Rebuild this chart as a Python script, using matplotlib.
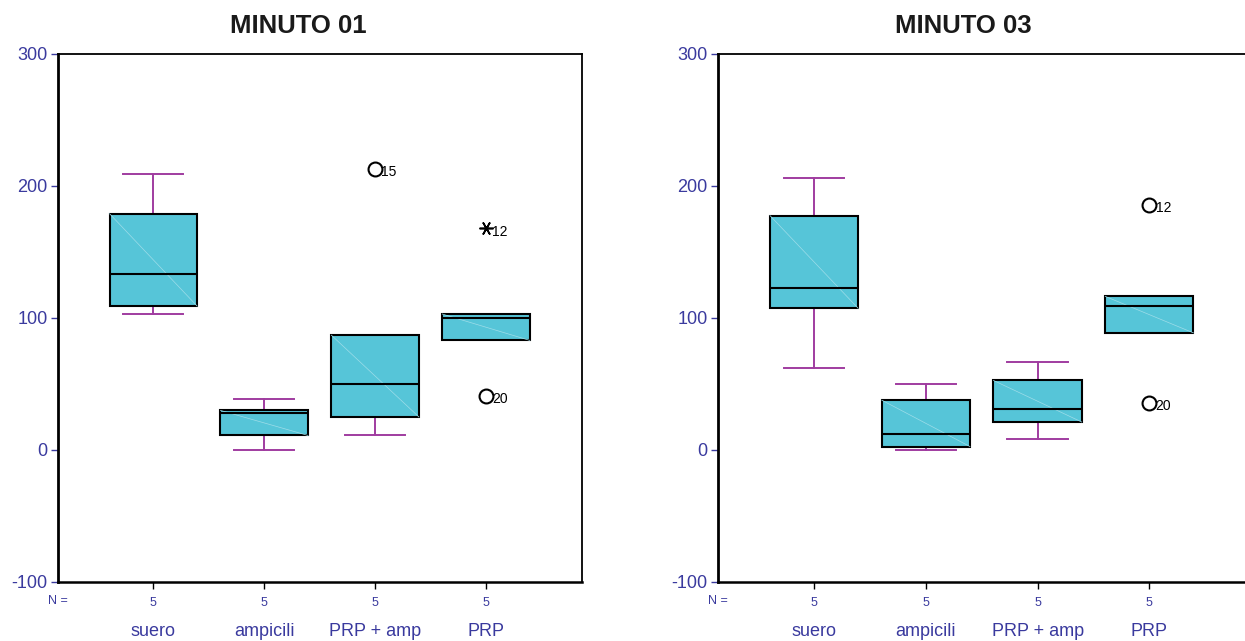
import matplotlib
matplotlib.use('Agg')
import matplotlib.pyplot as plt

plt.rcParams['font.family'] = ['Liberation Sans', 'DejaVu Sans']

categories = ['suero', 'ampicili', 'PRP + amp', 'PRP']
n_counts = [5, 5, 5, 5]

# minuto 01 box stats
m01_whislo = [103, 0, 11, 83]
m01_q1 = [109, 11, 25, 83]
m01_med = [133, 28, 50, 100]
m01_q3 = [179, 30, 87, 103]
m01_whishi = [209, 39, 87, 103]
m01_out_group = [3, 4, 4]
m01_out_value = [213, 168, 41]
m01_out_case = ['15', '12', '20']
m01_out_extreme = [False, True, False]

# minuto 03 box stats
m03_whislo = [62.5, 0, 8.6, 88.7]
m03_q1 = [107.3, 2.6, 21.2, 88.7]
m03_med = [122.7, 12.4, 31.3, 108.8]
m03_q3 = [177.6, 37.8, 52.7, 116.4]
m03_whishi = [206.3, 49.9, 66.5, 116.4]
m03_out_group = [4, 4]
m03_out_value = [185.7, 35.8]
m03_out_case = ['12', '20']
m03_out_extreme = [False, False]

y_ticks = [-100, 0, 100, 200, 300]

BLUE = '#3a3a9e'
FILL = '#56c5d8'
PURPLE = '#a03ca0'

W, H = 1245, 641
fig = plt.figure(figsize=(W / 100, H / 100), dpi=100)


def draw_panel(rect, title_x, title, whislo, q1, med, q3, whishi,
               out_group, out_value, out_case, out_extreme):
    ax = fig.add_axes(rect)
    positions = list(range(1, len(categories) + 1))
    stats = []
    for i in range(len(categories)):
        stats.append({'whislo': whislo[i], 'q1': q1[i], 'med': med[i],
                      'q3': q3[i], 'whishi': whishi[i], 'fliers': []})
    width = 0.79
    ax.bxp(stats, positions=positions, widths=width, capwidths=0.54,
           patch_artist=True, showfliers=False,
           boxprops=dict(facecolor=FILL, edgecolor='black', linewidth=1.5, zorder=3),
           medianprops=dict(color='black', linewidth=1.5, zorder=4),
           whiskerprops=dict(color=PURPLE, linewidth=1.4, zorder=2),
           capprops=dict(color=PURPLE, linewidth=1.4, zorder=2))

    # faint diagonal seam inside each box (SPSS rendering)
    for p, lo, hi in zip(positions, q1, q3):
        ax.plot([p - width / 2, p + width / 2], [hi, lo], color='#9edde9',
                linewidth=0.5, zorder=3.5)

    for g, v, c, ext in zip(out_group, out_value, out_case, out_extreme):
        if ext:
            ax.plot(g, v, marker=(6, 2, 90), markersize=10, color='black',
                    markeredgewidth=1.2, linestyle='none', zorder=5)
        else:
            ax.plot(g, v, marker='o', markersize=10, markerfacecolor='none',
                    markeredgecolor='black', markeredgewidth=1.5,
                    linestyle='none', zorder=5)
        ax.annotate(c, xy=(g, v), xytext=(4.5, -2.5), textcoords='offset points',
                    ha='left', va='center', fontsize=10, color='black')

    ax.set_xlim(0.14, 4.865)
    ax.set_ylim(-100, 300)
    ax.set_yticks(y_ticks)
    ax.set_yticklabels([str(t) for t in y_ticks])
    ax.tick_params(axis='y', direction='out', length=5, width=1, colors=BLUE,
                   labelsize=13, pad=2.5)
    ax.set_xticks(positions)
    ax.set_xticklabels([str(n) for n in n_counts])
    ax.tick_params(axis='x', direction='out', length=5, width=1, color='black',
                   labelcolor=BLUE, labelsize=9, pad=6)

    for s in ax.spines.values():
        s.set_linewidth(1.3)
        s.set_color('black')
    ax.spines['left'].set_linewidth(2)
    ax.spines['bottom'].set_linewidth(1.8)

    ax.annotate('N =', xy=(0, 0), xycoords='axes fraction', xytext=(0, -14),
                textcoords='offset points', ha='center', va='center',
                fontsize=9, color=BLUE)
    for p, name in zip(positions, categories):
        ax.annotate(name, xy=(p, 0), xycoords=('data', 'axes fraction'),
                    xytext=(0, -36), textcoords='offset points',
                    ha='center', va='center', fontsize=13, color=BLUE)

    fig.text(title_x / W, 1 - 26 / H, title, ha='center', va='center',
             fontsize=18.5, fontweight='bold', color='#1a1a1a')
    return ax


bottom = (H - 582) / H
height = 528 / H
draw_panel([58 / W, bottom, 524 / W, height], 298, 'MINUTO 01',
           m01_whislo, m01_q1, m01_med, m01_q3, m01_whishi,
           m01_out_group, m01_out_value, m01_out_case, m01_out_extreme)
draw_panel([718 / W, bottom, 528 / W, height], 963, 'MINUTO 03',
           m03_whislo, m03_q1, m03_med, m03_q3, m03_whishi,
           m03_out_group, m03_out_value, m03_out_case, m03_out_extreme)

fig.savefig('out.png', dpi=100)
